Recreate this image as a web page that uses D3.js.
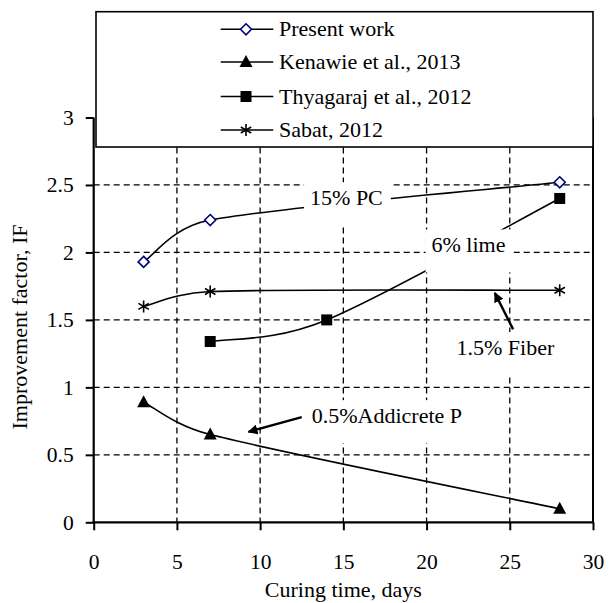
<!DOCTYPE html>
<html><head><meta charset="utf-8">
<script src="https://cdn.jsdelivr.net/npm/d3@7"></script>
<style>html,body{margin:0;padding:0;background:#fff}svg{display:block}</style>
</head><body>
<svg id="c" width="611" height="603"></svg>
<script>
const seriesNames = ["Present work", "Kenawie et al., 2013", "Thyagaraj et al., 2012", "Sabat, 2012"];
const presentDays = [3, 7, 28];
const presentIF = [1.93, 2.24, 2.52];
const kenawieDays = [3, 7, 28];
const kenawieIF = [0.89, 0.65, 0.1];
const thyagarajDays = [7, 14, 28];
const thyagarajIF = [1.34, 1.5, 2.4];
const sabatDays = [3, 7, 28];
const sabatIF = [1.6, 1.71, 1.72];
const xTicks = [0, 5, 10, 15, 20, 25, 30];
const yTicks = [0, 0.5, 1, 1.5, 2, 2.5, 3];
const yTickLabels = ["0", "0.5", "1", "1.5", "2", "2.5", "3"];
const annotations = [
  {text: "15% PC", x: 13.0, y: 2.35},
  {text: "6% lime", x: 20.3, y: 2.0},
  {text: "1.5% Fiber", x: 21.8, y: 1.24},
  {text: "0.5%Addicrete P", x: 13.1, y: 0.735}
];
const arrows = [
  {x1: 25.2, y1: 1.43, x2: 24.1, y2: 1.70},
  {x1: 12.5, y1: 0.78, x2: 9.3, y2: 0.67}
];

const FONT = "Liberation Serif, Times New Roman, serif";
const svg = d3.select("#c");
const x = d3.scaleLinear().domain([0, 30]).range([93.7, 593]);
const y = d3.scaleLinear().domain([0, 3]).range([522.3, 117.5]);

// spreadsheet-style smoothing curve (Bezier, 1/6 tangents, clamped arms)
function SmoothCurve(context) { this._context = context; }
SmoothCurve.prototype = {
  areaStart() {}, areaEnd() {},
  lineStart() { this._pts = []; },
  point(px, py) { this._pts.push([+px, +py]); },
  lineEnd() {
    const p = this._pts, c = this._context, n = p.length;
    if (!n) return;
    c.moveTo(p[0][0], p[0][1]);
    if (n === 1) return;
    const clamp = (v, maxLen) => {
      const l = Math.hypot(v[0], v[1]);
      if (l > maxLen && l > 0) return [v[0] * maxLen / l, v[1] * maxLen / l];
      return v;
    };
    for (let i = 0; i < n - 1; i++) {
      const p0 = p[i - 1] || p[i], p1 = p[i], p2 = p[i + 1], p3 = p[i + 2] || p[i + 1];
      const seg = Math.hypot(p2[0] - p1[0], p2[1] - p1[1]);
      const a1 = clamp([(p2[0] - p0[0]) / 6, (p2[1] - p0[1]) / 6], seg / 2);
      const a2 = clamp([(p3[0] - p1[0]) / 6, (p3[1] - p1[1]) / 6], seg / 2);
      c.bezierCurveTo(p1[0] + a1[0], p1[1] + a1[1], p2[0] - a2[0], p2[1] - a2[1], p2[0], p2[1]);
    }
  }
};
const smooth = ctx => new SmoothCurve(ctx);

// gridlines
const grid = svg.append("g").attr("stroke", "#000").attr("stroke-width", 1.3).attr("stroke-dasharray", "6,4");
xTicks.filter(d => d > 0 && d < 30).forEach(d => {
  grid.append("line").attr("x1", x(d)).attr("x2", x(d)).attr("y1", y(3)).attr("y2", y(0));
});
yTicks.filter(d => d > 0 && d < 3).forEach(d => {
  grid.append("line").attr("x1", x(0)).attr("x2", x(30)).attr("y1", y(d)).attr("y2", y(d));
});

// axes
const xAxis = d3.axisBottom(x).tickValues(xTicks).tickSize(8).tickPadding(23).tickFormat(d3.format("d"));
const gx = svg.append("g").attr("transform", `translate(0,${y(0)})`).call(xAxis);
gx.select(".domain").remove();
gx.selectAll("line").attr("stroke", "#000").attr("stroke-width", 2);
gx.selectAll("text").attr("font-family", FONT).attr("font-size", 21.5).attr("fill", "#000");

const yAxis = d3.axisLeft(y).tickValues(yTicks).tickSize(8).tickPadding(12).tickFormat((d, i) => yTickLabels[i]);
const gy = svg.append("g").attr("transform", `translate(${x(0)},0)`).call(yAxis);
gy.select(".domain").remove();
gy.selectAll("line").attr("stroke", "#000").attr("stroke-width", 2);
gy.selectAll("text").attr("font-family", FONT).attr("font-size", 21.5).attr("fill", "#000");

// plot border
svg.append("line").attr("x1", x(0)).attr("x2", x(0)).attr("y1", y(3)).attr("y2", y(0) + 1).attr("stroke", "#000").attr("stroke-width", 2.2);
svg.append("line").attr("x1", x(0) - 1).attr("x2", x(30) + 1).attr("y1", y(0)).attr("y2", y(0)).attr("stroke", "#000").attr("stroke-width", 2.2);
svg.append("line").attr("x1", x(30)).attr("x2", x(30)).attr("y1", y(3)).attr("y2", y(0)).attr("stroke", "#000").attr("stroke-width", 2);

// series lines
const line = d3.line().x(d => x(d[0])).y(d => y(d[1])).curve(smooth);
const series = [
  {days: presentDays, vals: presentIF, marker: "diamond"},
  {days: kenawieDays, vals: kenawieIF, marker: "triangle"},
  {days: thyagarajDays, vals: thyagarajIF, marker: "square"},
  {days: sabatDays, vals: sabatIF, marker: "star"}
];
const linesG = svg.append("g");
series.forEach(s => {
  const pts = s.days.map((d, i) => [d, s.vals[i]]);
  linesG.append("path").attr("d", line(pts)).attr("fill", "none").attr("stroke", "#000").attr("stroke-width", 1.6);
});

// annotations with white text boxes
const annG = svg.append("g");
annotations.forEach(a => {
  const t = annG.append("text").attr("x", x(a.x)).attr("y", y(a.y)).attr("font-family", FONT).attr("font-size", 22).attr("fill", "#000").text(a.text);
  const bb = t.node().getBBox();
  const by = y(a.y);
  annG.insert("rect", "text").attr("x", bb.x - 6).attr("y", by - 23).attr("width", bb.width + 14).attr("height", 43).attr("fill", "#fff");
});

// arrows
const defs = svg.append("defs");
defs.append("marker").attr("id", "ah").attr("viewBox", "0 0 10 10").attr("refX", 9).attr("refY", 5)
  .attr("markerWidth", 4.2).attr("markerHeight", 4.2).attr("orient", "auto")
  .append("path").attr("d", "M0,0L10,5L0,10z").attr("fill", "#000");
arrows.forEach(a => {
  svg.append("line").attr("x1", x(a.x1)).attr("y1", y(a.y1)).attr("x2", x(a.x2)).attr("y2", y(a.y2))
    .attr("stroke", "#000").attr("stroke-width", 2.4).attr("marker-end", "url(#ah)");
});

// markers
function drawMarker(g, type, cx, cy) {
  if (type === "diamond") {
    g.append("path").attr("d", `M${cx},${cy - 5.5}L${cx + 5.5},${cy}L${cx},${cy + 5.5}L${cx - 5.5},${cy}Z`)
      .attr("fill", "#fff").attr("stroke", "#000080").attr("stroke-width", 1.6);
  } else if (type === "triangle") {
    g.append("path").attr("d", `M${cx},${cy - 7}L${cx + 6.5},${cy + 5}L${cx - 6.5},${cy + 5}Z`).attr("fill", "#000");
  } else if (type === "square") {
    g.append("rect").attr("x", cx - 5.5).attr("y", cy - 5.5).attr("width", 11).attr("height", 11).attr("fill", "#000");
  } else if (type === "star") {
    const r = 6;
    const p = `M${cx},${cy - r}L${cx},${cy + r}M${cx - r * 0.87},${cy - r * 0.5}L${cx + r * 0.87},${cy + r * 0.5}M${cx - r * 0.87},${cy + r * 0.5}L${cx + r * 0.87},${cy - r * 0.5}`;
    g.append("path").attr("d", p).attr("stroke", "#000").attr("stroke-width", 1.6).attr("fill", "none");
  }
}
const mG = svg.append("g");
series.forEach(s => {
  s.days.forEach((d, i) => drawMarker(mG, s.marker, x(d), y(s.vals[i])));
});

// legend
const lg = svg.append("g");
lg.append("rect").attr("x", 96).attr("y", 11.7).attr("width", 593 - 96).attr("height", 147 - 11.7)
  .attr("fill", "#fff").attr("stroke", "#000").attr("stroke-width", 1.6);
const rowY = [29.3, 62, 96.5, 130];
seriesNames.forEach((name, i) => {
  const cy = rowY[i];
  lg.append("line").attr("x1", 220.7).attr("x2", 273.3).attr("y1", cy).attr("y2", cy).attr("stroke", "#000").attr("stroke-width", 1.6);
  drawMarker(lg, series[i].marker, 246, cy);
  lg.append("text").attr("x", 279).attr("y", cy + 7).attr("font-family", FONT).attr("font-size", 22).attr("fill", "#000").text(name);
});

// axis titles
svg.append("text").attr("x", (x(0) + x(30)) / 2).attr("y", 597).attr("text-anchor", "middle")
  .attr("font-family", FONT).attr("font-size", 22).attr("fill", "#000").text("Curing time, days");
svg.append("text").attr("transform", `translate(27,327) rotate(-90)`).attr("text-anchor", "middle")
  .attr("font-family", FONT).attr("font-size", 22).attr("fill", "#000").text("Improvement factor, IF");
</script>
</body></html>
